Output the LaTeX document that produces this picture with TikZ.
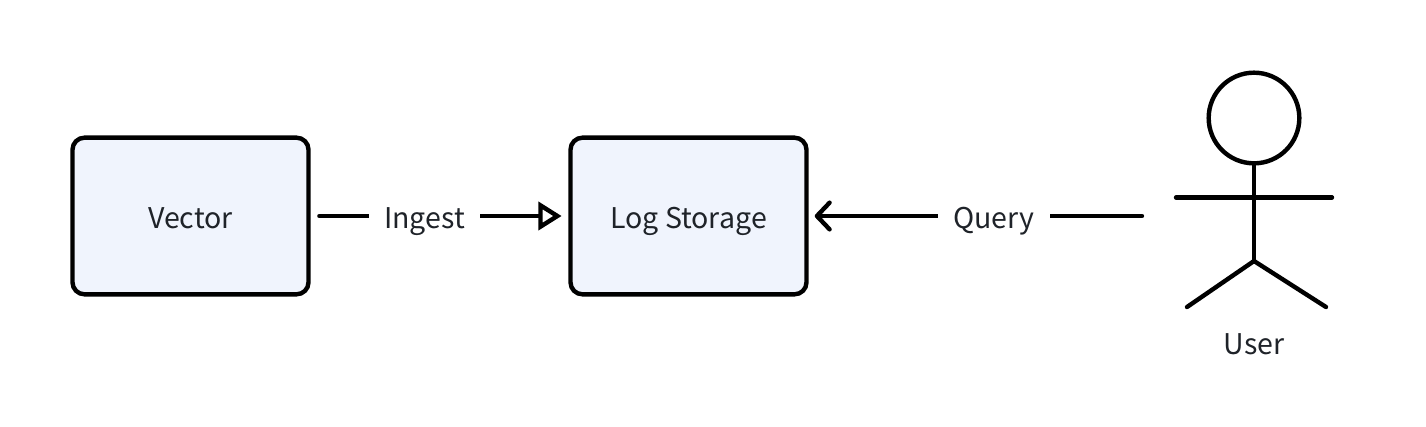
\documentclass[tikz,border=0pt]{standalone}
\usepackage{fontspec}
\setmainfont{Noto Sans CJK SC}
\usetikzlibrary{arrows.meta}
\definecolor{boxfill}{HTML}{F0F4FD}
\definecolor{labeltext}{HTML}{1F2329}
\tikzset{
    storebox/.style={draw=black,line width=3.3pt,fill=boxfill,rounded corners=9pt,minimum width=177pt,minimum height=117.5pt,inner sep=0pt,text=labeltext,font=\fontsize{21.4}{25}\selectfont,text height=18pt,text depth=0pt},
    linklabel/.style={fill=white,inner xsep=11.5pt,inner ysep=2pt,text=labeltext,font=\fontsize{21.4}{25}\selectfont,anchor=base},
    link/.style={line width=3.3pt,line cap=round},
    figure/.style={line width=3.3pt,line cap=round}
}
\begin{document}
\begin{tikzpicture}[x=0.75pt,y=-0.75pt]
    \useasboundingbox (0,0) rectangle (1426,426);

    %boxes
    \node[storebox] (vector) at (190.5,216) {Vector};
    \node[storebox] (logstore) at (688.5,216) {Log Storage};

    %user
    \node[circle,draw,line width=3.3pt,minimum size=68pt,inner sep=0pt] (head) at (1254,118) {};
    \coordinate (armleft) at (1176,197.5);
    \coordinate (armright) at (1332,197.5);
    \coordinate (hip) at (1254,261);
    \draw[figure] (head.south) -- (hip);
    \draw[figure] (armleft) -- (armright);
    \draw[figure] (1187,307) -- (hip) -- (1326,307);
    \node[text=labeltext,font=\fontsize{21.4}{25}\selectfont,anchor=base] (user) at (1254,354) {User};

    %links
    \coordinate (userend) at (1142,216);
    \draw[link,-{Triangle[open,length=17.5pt,width=21pt,line width=3.3pt]},shorten <=6.5pt,shorten >=5pt] (vector.east) -- (logstore.west);
    \draw[link,-{Straight Barb[length=9.5pt,width=20pt,line width=3.3pt,round]},shorten >=4.5pt] (userend) -- (logstore.east);
    \node[linklabel] (ingest) at (424.5,228) {Ingest};
    \node[linklabel] (query) at (994,228) {Query};
\end{tikzpicture}
\end{document}
